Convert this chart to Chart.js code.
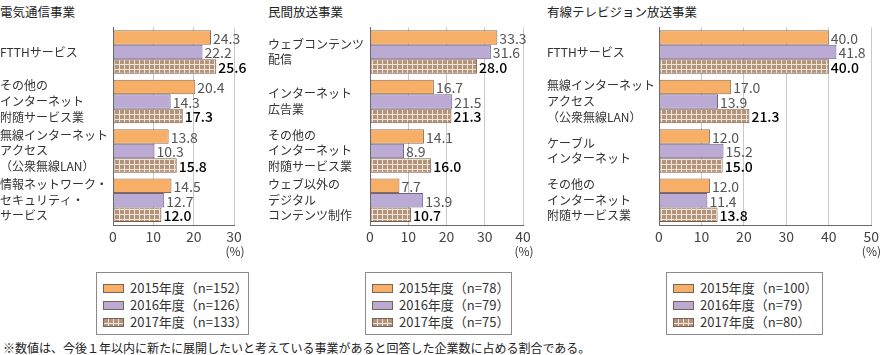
<!DOCTYPE html>
<html><head><meta charset="utf-8">
<script src="https://cdn.jsdelivr.net/npm/chart.js@4.4.1/dist/chart.umd.min.js"></script>
<style>
html,body{margin:0;padding:0;background:#fff;}
body{width:882px;height:355px;position:relative;overflow:hidden;font-family:"Noto Sans CJK JP","Noto Sans",sans-serif;color:#222;}
.title{position:absolute;top:2px;font-size:12.5px;color:#222;white-space:nowrap;}
.cw{position:absolute;top:0;}
.legend{position:absolute;top:272px;height:63px;border:1px solid #8a8a8a;box-sizing:border-box;}
.li{position:absolute;left:6px;height:17px;font-size:13px;color:#333;white-space:nowrap;line-height:17px;}
.sw{display:inline-block;width:21px;height:9px;vertical-align:middle;margin-right:6px;box-sizing:border-box;border:1px solid #7a6354;position:relative;top:-1px;}
.s0{background:#F7AE66;}
.s1{background:#BBAAD4;}
.s2{background-color:#B4937B;background-image:linear-gradient(to right,transparent 4px,#EFE4D8 4px),linear-gradient(to bottom,transparent 4px,#EFE4D8 4px);background-size:5px 5px;}
.foot{position:absolute;left:3px;top:339px;font-size:12px;color:#222;white-space:nowrap;}
</style></head>
<body>
<div class="title" style="left:0px">電気通信事業</div>
<div class="title" style="left:268px">民間放送事業</div>
<div class="title" style="left:547px">有線テレビジョン放送事業</div>
<div class="cw" style="left:0px;width:290px;height:262px"><canvas id="c1"></canvas></div>
<div class="cw" style="left:268px;width:292px;height:262px"><canvas id="c2"></canvas></div>
<div class="cw" style="left:547px;width:335px;height:262px"><canvas id="c3"></canvas></div>
<div id="lg1" class="legend" style="left:96px;width:153px"></div>
<div id="lg2" class="legend" style="left:365px;width:147px"></div>
<div id="lg3" class="legend" style="left:666px;width:157px"></div>
<div class="foot">※数値は、今後１年以内に新たに展開したいと考えている事業があると回答した企業数に占める割合である。</div>
<script>
// ---- data ----
const years = ["2015年度", "2016年度", "2017年度"];

const cats1 = [["FTTHサービス"], ["その他の","インターネット","附随サービス業"], ["無線インターネット","アクセス","（公衆無線LAN）"], ["情報ネットワーク・","セキュリティ・","サービス"]];
const v1_2015 = [24.3, 20.4, 13.8, 14.5];
const v1_2016 = [22.2, 14.3, 10.3, 12.7];
const v1_2017 = [25.6, 17.3, 15.8, 12.0];
const n1 = [152, 126, 133];
const ticks1 = [0, 10, 20, 30];

const cats2 = [["ウェブコンテンツ","配信"], ["インターネット","広告業"], ["その他の","インターネット","附随サービス業"], ["ウェブ以外の","デジタル","コンテンツ制作"]];
const v2_2015 = [33.3, 16.7, 14.1, 7.7];
const v2_2016 = [31.6, 21.5, 8.9, 13.9];
const v2_2017 = [28.0, 21.3, 16.0, 10.7];
const n2 = [78, 79, 75];
const ticks2 = [0, 10, 20, 30, 40];

const cats3 = [["FTTHサービス"], ["無線インターネット","アクセス","（公衆無線LAN）"], ["ケーブル","インターネット"], ["その他の","インターネット","附随サービス業"]];
const v3_2015 = [40.0, 17.0, 12.0, 12.0];
const v3_2016 = [41.8, 13.9, 15.2, 11.4];
const v3_2017 = [40.0, 21.3, 15.0, 13.8];
const n3 = [100, 79, 80];
const ticks3 = [0, 10, 20, 30, 40, 50];

const unit = "(%)";
// ---- styling ----
const FONT = '"Noto Sans CJK JP","Noto Sans",sans-serif';
function makePattern(){
  const c = document.createElement('canvas'); c.width = 5; c.height = 5;
  const x = c.getContext('2d');
  x.fillStyle = '#B4937B'; x.fillRect(0,0,5,5);
  x.fillStyle = '#EFE4D8'; x.fillRect(4,0,1,5); x.fillRect(0,4,5,1);
  return x.createPattern(c, 'repeat');
}
const pat = makePattern();
const fills = ['#F7AE66', '#BBAAD4', pat];
const borders = ['#8a6a52', '#6f6485', '#7a5c48'];

const labelPlugin = {
  id: 'vals',
  afterDatasetsDraw(chart){
    const ctx = chart.ctx;
    ctx.save();
    ctx.textBaseline = 'middle';
    ctx.textAlign = 'left';
    chart.data.datasets.forEach((ds, i) => {
      const meta = chart.getDatasetMeta(i);
      ctx.font = (i === 2 ? '500 ' : '400 ') + '14px ' + FONT;
      ctx.fillStyle = i === 2 ? '#000' : '#555';
      meta.data.forEach((bar, j) => {
        ctx.fillText(ds.data[j].toFixed(1), bar.x + 2, bar.y + 1);
      });
    });
    // unit label under the last tick
    const xs = chart.scales.x;
    ctx.font = '12px ' + FONT;
    ctx.fillStyle = '#333';
    ctx.textAlign = 'center';
    let ux = xs.right + 1;
    const w = ctx.measureText(unit).width;
    if (ux + w/2 > chart.width - 1) ux = chart.width - 1 - w/2;
    ctx.fillText(unit, ux, xs.bottom - 11);
    ctx.restore();
  }
};

function build(id, cats, a, b, c, tks, yWidth, padRight){
  const maxV = tks[tks.length-1];
  new Chart(document.getElementById(id), {
    type: 'bar',
    data: {
      labels: cats,
      datasets: [a, b, c].map((d, i) => ({
        label: years[i], data: d,
        backgroundColor: fills[i], borderColor: borders[i], borderWidth: 1,
        borderSkipped: false,
        categoryPercentage: 0.88, barPercentage: 1.0
      }))
    },
    options: {
      indexAxis: 'y', responsive: true, maintainAspectRatio: false, animation: false,
      layout: { padding: { top: 25, right: padRight, left: 0, bottom: 0 } },
      plugins: { legend: { display: false }, tooltip: { enabled: false } },
      scales: {
        x: {
          min: 0, max: maxV,
          afterBuildTicks: (s) => { s.ticks = tks.map(v => ({ value: v })); },
          afterFit: (s) => { s.height = 37; },
          grid: { color: '#c8c8c8', drawTicks: false, lineWidth: 1 },
          border: { color: '#6a6a6a', width: 1 },
          ticks: { font: { size: 14, family: FONT }, color: '#444', padding: 3, maxRotation: 0 }
        },
        y: {
          afterFit: (s) => { s.width = yWidth; },
          grid: { display: true, drawOnChartArea: false, drawTicks: false, offset: true },
          border: { color: '#6a6a6a', width: 1 },
          ticks: { crossAlign: 'far', font: { size: 12, family: FONT, lineHeight: 1.3 }, color: '#333', padding: 4, autoSkip: false }
        }
      }
    },
    plugins: [labelPlugin]
  });
}

build('c1', cats1, v1_2015, v1_2016, v1_2017, ticks1, 113, 56);
build('c2', cats2, v2_2015, v2_2016, v2_2017, ticks2, 102, 37);
build('c3', cats3, v3_2015, v3_2016, v3_2017, ticks3, 112, 7);

function legend(id, ns){
  const el = document.getElementById(id);
  const tops = [6, 23, 40];
  years.forEach((y, i) => {
    const d = document.createElement('div');
    d.className = 'li';
    d.style.top = tops[i] + 'px';
    d.innerHTML = '<span class="sw s' + i + '"></span>' + y + '（n=' + ns[i] + '）';
    el.appendChild(d);
  });
}
legend('lg1', n1); legend('lg2', n2); legend('lg3', n3);
</script>
</body></html>
